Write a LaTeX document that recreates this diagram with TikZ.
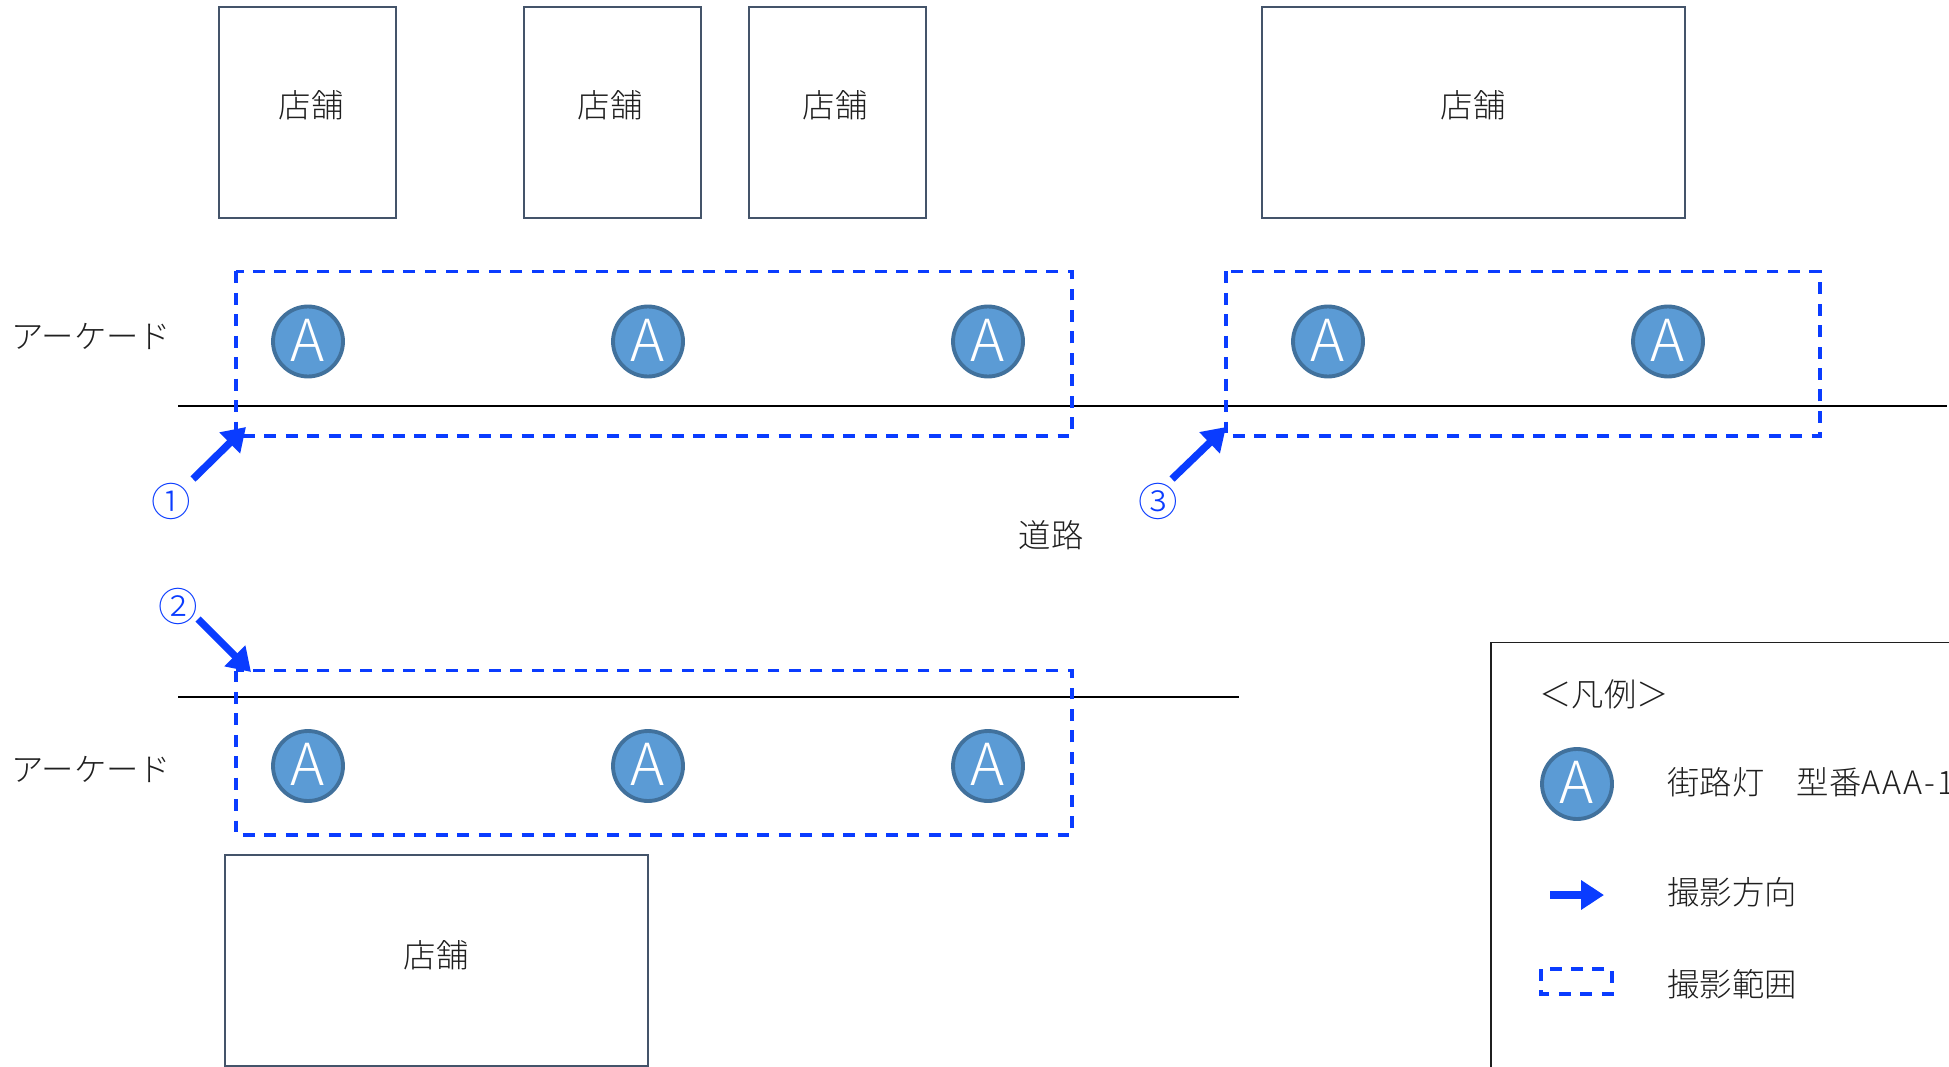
\documentclass[tikz,border=0pt]{standalone}
\usepackage{fontspec}
\setmainfont{Noto Sans CJK JP Light}
\usetikzlibrary{arrows.meta}
\definecolor{shopline}{HTML}{44546A}
\definecolor{lampfill}{HTML}{5B9BD5}
\definecolor{lampline}{HTML}{41719C}
\definecolor{shotblue}{HTML}{0A3CFF}
\definecolor{inkc}{HTML}{1F1F1F}
\tikzset{
  x=0.02cm,y=-0.02cm,
  shopbox/.style={draw=shopline,line width=0.85pt,fill=none},
  lamp/.style={circle,draw=lampline,line width=2.2pt,fill=lampfill,text=white,minimum size=1.4cm,inner sep=0pt,font=\fontsize{33}{33}\selectfont},
  rangebox/.style={draw=shotblue,line width=1.75pt,dash pattern=on 6.8pt off 5.4pt},
  road/.style={draw=black,line width=1.1pt},
  shotarrow/.style={draw=shotblue,line width=4.2pt,-{Triangle[length=13pt,width=16pt,fill=shotblue]}},
  lbl/.style={text=inkc,font=\fontsize{18.4}{18.4}\selectfont,inner sep=0pt},
  circnum/.style={text=shotblue,font=\fontsize{22.5}{22.5}\selectfont,inner sep=0pt}
}
\newcommand{\lampA}{\raisebox{1.5pt}{A}}
\begin{document}
\begin{tikzpicture}
\useasboundingbox (0,0) rectangle (1949,1067);
\clip (0,0) rectangle (1949,1067);
\fill[white] (0,0) rectangle (1949,1067);
% shops
\draw[shopbox] (219,7) rectangle (396,218);
\draw[shopbox] (524,7) rectangle (701,218);
\draw[shopbox] (749,7) rectangle (926,218);
\draw[shopbox] (1262,7) rectangle (1685,218);
\draw[shopbox] (225,855) rectangle (648,1066);
\node[lbl] (s1) at (311,105) {店舗};
\node[lbl] (s2) at (610,105) {店舗};
\node[lbl] (s3) at (835,105) {店舗};
\node[lbl] (s4) at (1473,105) {店舗};
\node[lbl] (s5) at (436,955) {店舗};
% roads
\coordinate (r1a) at (178,406); \coordinate (r1b) at (1947,406);
\coordinate (r2a) at (178,697); \coordinate (r2b) at (1239,697);
\draw[road] (r1a) -- (r1b);
\draw[road] (r2a) -- (r2b);
% ranges
\draw[rangebox] (236,271.5) rectangle (1072,436);
\draw[rangebox] (1226,271.5) rectangle (1820,436);
\draw[rangebox] (236,670.5) rectangle (1072,835);
% lamps
\foreach \n/\x/\y in {a/308/341.5,b/648/341.5,c/988/341.5,d/1328/341.5,e/1668/341.5,f/308/766,g/648/766,h/988/766}
  \node[lamp] (\n) at (\x,\y) {\lampA};
% labels
\node[lbl,anchor=west] (ark1) at (11,336) {アーケード};
\node[lbl,anchor=west] (ark2) at (11,769) {アーケード};
\node[lbl] (rd) at (1051,535) {道路};
% arrows
\coordinate (a1s) at (193,479); \coordinate (a1e) at (246,427);
\coordinate (a2s) at (198,619); \coordinate (a2e) at (251,672);
\coordinate (a3s) at (1172,479); \coordinate (a3e) at (1226,427);
\draw[shotarrow] (a1s) -- (a1e);
\draw[shotarrow] (a2s) -- (a2e);
\draw[shotarrow] (a3s) -- (a3e);
\node[circnum] (n1) at (171,501) {①};
\node[circnum] (n2) at (178,606.5) {②};
\node[circnum] (n3) at (1158,501) {③};
% legend
\draw[draw=inkc,line width=1pt] (1491,642.5) rectangle (2000,1100);
\node[lbl] (lt) at (1604,694) {＜凡例＞};
\node[lamp] (ll) at (1577,784) {\lampA};
\node[lbl,anchor=west] (l1) at (1667,782) {街路灯　型番{\addfontfeature{LetterSpace=7}AAA-1}};
\coordinate (las) at (1550,895); \coordinate (lae) at (1604,895);
\draw[shotarrow] (las) -- (lae);
\node[lbl,anchor=west] (l2) at (1667,892) {撮影方向};
\draw[rangebox] (1541,969) rectangle (1612,994);
\node[lbl,anchor=west] (l3) at (1667,984) {撮影範囲};
\end{tikzpicture}
\end{document}
